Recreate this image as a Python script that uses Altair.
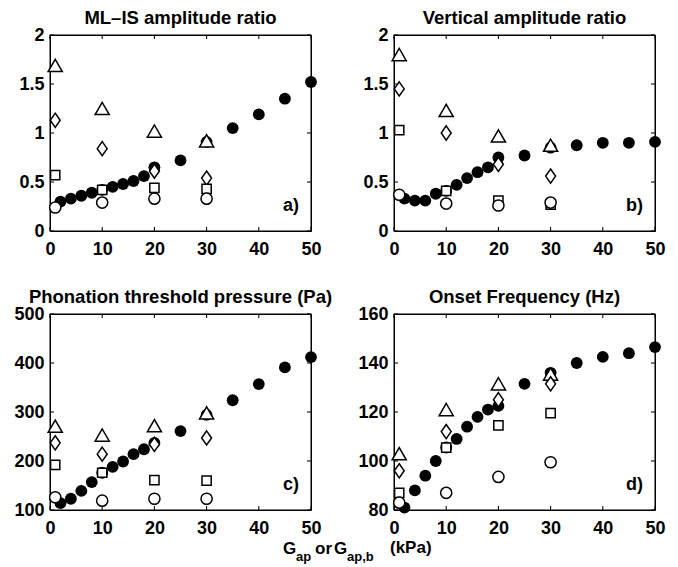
import altair as alt
import pandas as pd

# ---------------- data ----------------
x_filled = [2, 4, 6, 8, 10, 12, 14, 16, 18, 20, 25, 30, 35, 40, 45, 50]
x_open = [1, 10, 20, 30]

a_filled = [0.30, 0.33, 0.36, 0.39, 0.42, 0.45, 0.48, 0.51, 0.56, 0.65, 0.72, 0.91, 1.05, 1.19, 1.35, 1.52]
a_tri = [1.69, 1.25, 1.02, 0.92]
a_dia = [1.13, 0.84, 0.61, 0.54]
a_sq = [0.57, 0.42, 0.44, 0.43]
a_circ = [0.24, 0.29, 0.33, 0.33]

b_filled = [0.33, 0.31, 0.31, 0.38, 0.41, 0.47, 0.54, 0.60, 0.65, 0.75, 0.77, 0.85, 0.875, 0.90, 0.90, 0.91]
b_tri = [1.80, 1.23, 0.97, 0.875]
b_dia = [1.45, 1.00, 0.68, 0.56]
b_sq = [1.03, 0.41, 0.31, 0.27]
b_circ = [0.37, 0.28, 0.26, 0.29]

c_filled = [114, 123, 139, 157, 176, 188, 199, 214, 224, 237, 261, 294, 324, 357, 391, 412]
c_tri = [271, 253, 272, 298]
c_dia = [237, 214, 234, 247]
c_sq = [192, 176, 161, 160]
c_circ = [126, 119, 123, 123]

d_filled = [81, 88, 94, 100, 105.5, 109, 114, 118, 121, 122.5, 131.5, 136, 140, 142.5, 144, 146.5]
d_tri = [103, 121, 131.5, 135.5]
d_dia = [96, 112, 125, 131.5]
d_sq = [87, 105.5, 114.5, 119.5]
d_circ = [83, 87, 93.5, 99.5]

x_ticks = [0, 10, 20, 30, 40, 50]
ticks_ab = [0, 0.5, 1, 1.5, 2]
ticks_c = [100, 200, 300, 400, 500]
ticks_d = [80, 100, 120, 140, 160]

titles = ["ML\u2013IS amplitude ratio", "Vertical amplitude ratio",
          "Phonation threshold pressure (Pa)", "Onset Frequency (Hz)"]
letters = ["a)", "b)", "c)", "d)"]
xlabel_parts = ["G", "ap", "or", "G", "ap,b", "(kPa)"]

W, H = 261, 196
FONT = "Liberation Sans"
DIAMOND = "M0,-1L0.7,0L0,1L-0.7,0Z"
# short filled tick symbols (unit length = 4 px with size 64)
TICK_UP = "M-0.13,0L0.13,0L0.13,-1L-0.13,-1Z"
TICK_DOWN = "M-0.13,0L0.13,0L0.13,1L-0.13,1Z"
TICK_RIGHT = "M0,-0.13L1,-0.13L1,0.13L0,0.13Z"
TICK_LEFT = "M0,-0.13L-1,-0.13L-1,0.13L0,0.13Z"


def frame_path(w, h):
    # thin filled ring that outlines a w x h box, in symbol units (half-width = 1)
    r = w / 2.0
    ho = (h / 2.0 + 0.5) / r
    hi = (h / 2.0 - 0.5) / r
    wo = (w / 2.0 + 0.5) / r
    wi = (w / 2.0 - 0.5) / r
    return (f"M{-wo:.5f},{-ho:.5f}L{wo:.5f},{-ho:.5f}L{wo:.5f},{ho:.5f}L{-wo:.5f},{ho:.5f}Z"
            f"M{-wi:.5f},{-hi:.5f}L{-wi:.5f},{hi:.5f}L{wi:.5f},{hi:.5f}L{wi:.5f},{-hi:.5f}Z")


def panel(filled, tri, dia, sq, circ, yticks, fmt, title, letter):
    ymin, ymax = yticks[0], yticks[-1]
    xmin, xmax = x_ticks[0], x_ticks[-1]
    xs = alt.Scale(domain=[xmin, xmax], nice=False, zero=False)
    ys = alt.Scale(domain=[ymin, ymax], nice=False, zero=False)
    xax = alt.Axis(values=x_ticks, ticks=False, domain=False, grid=False, title=None,
                   labelFontSize=18, labelFontWeight="bold", labelFont=FONT,
                   labelColor="black", labelPadding=9, labelFlush=False)
    yax = alt.Axis(values=yticks, ticks=False, domain=False, grid=False, title=None,
                   labelFontSize=18, labelFontWeight="bold", labelFont=FONT,
                   labelColor="black", labelPadding=6, format=fmt, labelFlush=False)

    df_f = pd.DataFrame({"x": x_filled, "y": filled})
    layers = [
        alt.Chart(df_f).mark_point(shape="circle", filled=True, size=140, color="black", opacity=1)
        .encode(x=alt.X("x:Q", scale=xs, axis=xax), y=alt.Y("y:Q", scale=ys, axis=yax))
    ]
    # frame box as a filled outline symbol centred in the axis domain
    ctr = pd.DataFrame({"x": [(xmin + xmax) / 2], "y": [(ymin + ymax) / 2]})
    layers.append(
        alt.Chart(ctr).mark_point(shape=frame_path(W, H), size=W * W, filled=True,
                                  color="black", opacity=1, strokeWidth=0)
        .encode(x="x:Q", y="y:Q")
    )
    # inward ticks on all four sides
    dxb = pd.DataFrame({"v": x_ticks, "p": [ymin] * len(x_ticks)})
    dxt = pd.DataFrame({"v": x_ticks, "p": [ymax] * len(x_ticks)})
    dyl = pd.DataFrame({"v": yticks, "p": [xmin] * len(yticks)})
    dyr = pd.DataFrame({"v": yticks, "p": [xmax] * len(yticks)})
    for d, shp in ((dxb, TICK_UP), (dxt, TICK_DOWN)):
        layers.append(alt.Chart(d).mark_point(shape=shp, size=64, filled=True,
                                              color="black", opacity=1, strokeWidth=0)
                      .encode(x="v:Q", y="p:Q"))
    for d, shp in ((dyl, TICK_RIGHT), (dyr, TICK_LEFT)):
        layers.append(alt.Chart(d).mark_point(shape=shp, size=64, filled=True,
                                              color="black", opacity=1, strokeWidth=0)
                      .encode(y="v:Q", x="p:Q"))

    for vals, shape, size in [(tri, "triangle-up", 200), (dia, DIAMOND, 200),
                              (sq, "square", 85), (circ, "circle", 125)]:
        d = pd.DataFrame({"x": x_open, "y": vals})
        layers.append(
            alt.Chart(d).mark_point(shape=shape, size=size, fill="white", fillOpacity=1,
                                    stroke="black", strokeWidth=1.5, opacity=1)
            .encode(x="x:Q", y="y:Q")
        )
    layers.append(
        alt.Chart(pd.DataFrame({"t": [letter]})).mark_text(
            align="right", baseline="alphabetic", fontSize=18, fontWeight="bold",
            font=FONT, color="black")
        .encode(text="t:N", x=alt.value(W - 12), y=alt.value(H - 20))
    )
    return alt.layer(*layers).properties(
        width=W, height=H,
        title=alt.TitleParams(title, fontSize=18.5, fontWeight="bold", font=FONT,
                              color="black", offset=-1))


pa = panel(a_filled, a_tri, a_dia, a_sq, a_circ, ticks_ab, "~g", titles[0], letters[0])
pb = panel(b_filled, b_tri, b_dia, b_sq, b_circ, ticks_ab, "~g", titles[1], letters[1])
pc = panel(c_filled, c_tri, c_dia, c_sq, c_circ, ticks_c, "d", titles[2], letters[2])
pd_ = panel(d_filled, d_tri, d_dia, d_sq, d_circ, ticks_d, "d", titles[3], letters[3])

grid = alt.concat(pa, pb, pc, pd_, columns=2, spacing=alt.RowColnumber(row=28, column=24))

# bottom x label with subscripts (positions relative to the left plot edge)
label_pos = [(283, 17, 0), (296, 13, 7), (315, 17, 0), (334, 17, 0), (347, 13, 7), (390, 17, -1)]
label_layers = []
for txt, (px, fs, dy) in zip(xlabel_parts, label_pos):
    label_layers.append(
        alt.Chart(pd.DataFrame({"t": [txt]})).mark_text(
            align="left", baseline="alphabetic", fontSize=fs, fontWeight="bold",
            font=FONT, color="black")
        .encode(text="t:N", x=alt.value(px - 50), y=alt.value(14 + dy))
    )
xlabel = alt.layer(*label_layers).properties(
    width=600, height=20, view=alt.ViewConfig(stroke="transparent"))

chart = alt.vconcat(grid, xlabel, spacing=0).properties(
    padding={"left": 5, "top": 0, "right": 0, "bottom": 0}
).configure(background="white", view=alt.ViewConfig(stroke="black", strokeWidth=1))

chart.save("out.html", embed_options={"renderer": "svg", "actions": False})
